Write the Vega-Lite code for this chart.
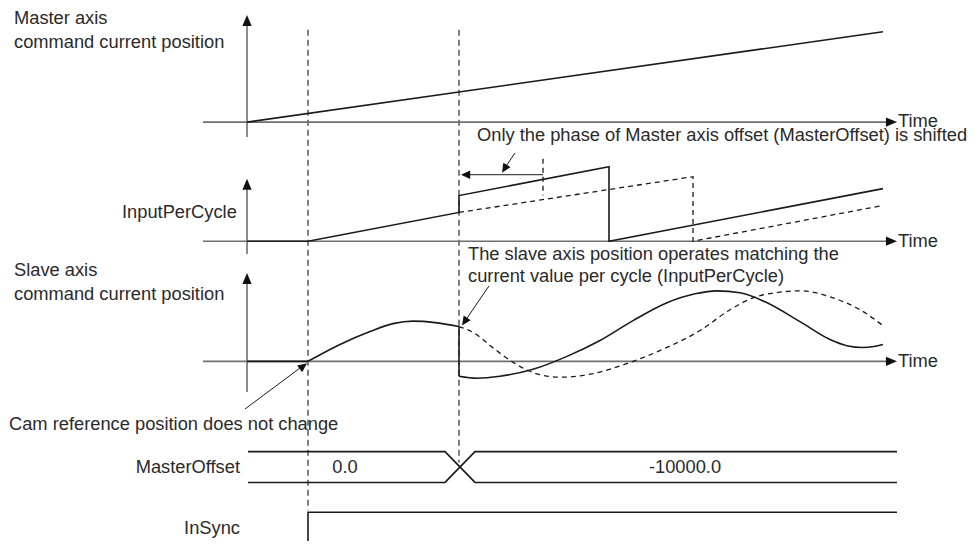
{
  "$schema": "https://vega.github.io/schema/vega-lite/v6.json",
  "width": 977,
  "height": 545,
  "autosize": {"type": "fit", "contains": "padding"},
  "padding": 0,
  "background": "white",
  "config": {"view": {"stroke": null}},
  "datasets": {
    "lines": [
      {"id": "a1v", "grp": "axis", "o": 0, "x": 247, "y": 24},
      {"id": "a1v", "grp": "axis", "o": 1, "x": 247, "y": 138},
      {"id": "a1h", "grp": "axis", "o": 0, "x": 203, "y": 123},
      {"id": "a1h", "grp": "axis", "o": 1, "x": 889, "y": 123},
      {"id": "a2v", "grp": "axis", "o": 0, "x": 247, "y": 188},
      {"id": "a2v", "grp": "axis", "o": 1, "x": 247, "y": 256},
      {"id": "a2h", "grp": "axis", "o": 0, "x": 203, "y": 243},
      {"id": "a2h", "grp": "axis", "o": 1, "x": 889, "y": 243},
      {"id": "a3v", "grp": "axis", "o": 0, "x": 247, "y": 283},
      {"id": "a3v", "grp": "axis", "o": 1, "x": 247, "y": 395},
      {"id": "a3h", "grp": "axis", "o": 0, "x": 203, "y": 364},
      {"id": "a3h", "grp": "axis", "o": 1, "x": 889, "y": 364},

      {"id": "m", "grp": "signal", "o": 0, "x": 247, "y": 123},
      {"id": "m", "grp": "signal", "o": 1, "x": 883, "y": 32},
      {"id": "ipc", "grp": "signal", "o": 0, "x": 247, "y": 243},
      {"id": "ipc", "grp": "signal", "o": 1, "x": 308, "y": 243},
      {"id": "ipc", "grp": "signal", "o": 2, "x": 459, "y": 214},
      {"id": "ipc", "grp": "signal", "o": 3, "x": 459, "y": 197},
      {"id": "ipc", "grp": "signal", "o": 4, "x": 609, "y": 168},
      {"id": "ipc", "grp": "signal", "o": 5, "x": 609, "y": 243},
      {"id": "ipc", "grp": "signal", "o": 6, "x": 883, "y": 190},
      {"id": "s0", "grp": "signal", "o": 0, "x": 247, "y": 364},
      {"id": "s0", "grp": "signal", "o": 1, "x": 308, "y": 364},
      {"id": "s2", "grp": "signal", "o": 0, "x": 459, "y": 329},
      {"id": "s2", "grp": "signal", "o": 1, "x": 459, "y": 379},
      {"id": "busA", "grp": "signal", "o": 0, "x": 248, "y": 455},
      {"id": "busA", "grp": "signal", "o": 1, "x": 445, "y": 455},
      {"id": "busA", "grp": "signal", "o": 2, "x": 475, "y": 486},
      {"id": "busA", "grp": "signal", "o": 3, "x": 897, "y": 486},
      {"id": "busB", "grp": "signal", "o": 0, "x": 248, "y": 486},
      {"id": "busB", "grp": "signal", "o": 1, "x": 445, "y": 486},
      {"id": "busB", "grp": "signal", "o": 2, "x": 475, "y": 455},
      {"id": "busB", "grp": "signal", "o": 3, "x": 897, "y": 455},
      {"id": "ins", "grp": "signal", "o": 0, "x": 308, "y": 545},
      {"id": "ins", "grp": "signal", "o": 1, "x": 308, "y": 516},
      {"id": "ins", "grp": "signal", "o": 2, "x": 897, "y": 516},

      {"id": "s1", "grp": "curve", "o": 0, "x": 308, "y": 364},
      {"id": "s1", "grp": "curve", "o": 1, "x": 340, "y": 347},
      {"id": "s1", "grp": "curve", "o": 2, "x": 370, "y": 334},
      {"id": "s1", "grp": "curve", "o": 3, "x": 393, "y": 326},
      {"id": "s1", "grp": "curve", "o": 4, "x": 413, "y": 323.5},
      {"id": "s1", "grp": "curve", "o": 5, "x": 435, "y": 325},
      {"id": "s1", "grp": "curve", "o": 6, "x": 459, "y": 329},
      {"id": "s3", "grp": "curve", "o": 0, "x": 459, "y": 379},
      {"id": "s3", "grp": "curve", "o": 1, "x": 477, "y": 381},
      {"id": "s3", "grp": "curve", "o": 2, "x": 500, "y": 379},
      {"id": "s3", "grp": "curve", "o": 3, "x": 533, "y": 372},
      {"id": "s3", "grp": "curve", "o": 4, "x": 567, "y": 359},
      {"id": "s3", "grp": "curve", "o": 5, "x": 600, "y": 343},
      {"id": "s3", "grp": "curve", "o": 6, "x": 633, "y": 323},
      {"id": "s3", "grp": "curve", "o": 7, "x": 667, "y": 305},
      {"id": "s3", "grp": "curve", "o": 8, "x": 695, "y": 296},
      {"id": "s3", "grp": "curve", "o": 9, "x": 717, "y": 293},
      {"id": "s3", "grp": "curve", "o": 10, "x": 740, "y": 295},
      {"id": "s3", "grp": "curve", "o": 11, "x": 765, "y": 304},
      {"id": "s3", "grp": "curve", "o": 12, "x": 800, "y": 324},
      {"id": "s3", "grp": "curve", "o": 13, "x": 830, "y": 342},
      {"id": "s3", "grp": "curve", "o": 14, "x": 848, "y": 348.5},
      {"id": "s3", "grp": "curve", "o": 15, "x": 862, "y": 350},
      {"id": "s3", "grp": "curve", "o": 16, "x": 874, "y": 349},
      {"id": "s3", "grp": "curve", "o": 17, "x": 883, "y": 347},

      {"id": "d1", "grp": "shifted", "o": 0, "x": 459, "y": 214},
      {"id": "d1", "grp": "shifted", "o": 1, "x": 693, "y": 178},
      {"id": "d1", "grp": "shifted", "o": 2, "x": 693, "y": 243},
      {"id": "d1", "grp": "shifted", "o": 3, "x": 883, "y": 207},
      {"id": "d2", "grp": "shifted", "o": 0, "x": 543, "y": 160},
      {"id": "d2", "grp": "shifted", "o": 1, "x": 543, "y": 197},

      {"id": "dc", "grp": "shiftcurve", "o": 0, "x": 459, "y": 329},
      {"id": "dc", "grp": "shiftcurve", "o": 1, "x": 475, "y": 336},
      {"id": "dc", "grp": "shiftcurve", "o": 2, "x": 490, "y": 348},
      {"id": "dc", "grp": "shiftcurve", "o": 3, "x": 513, "y": 365},
      {"id": "dc", "grp": "shiftcurve", "o": 4, "x": 535, "y": 376},
      {"id": "dc", "grp": "shiftcurve", "o": 5, "x": 560, "y": 380},
      {"id": "dc", "grp": "shiftcurve", "o": 6, "x": 590, "y": 377},
      {"id": "dc", "grp": "shiftcurve", "o": 7, "x": 633, "y": 364},
      {"id": "dc", "grp": "shiftcurve", "o": 8, "x": 667, "y": 350},
      {"id": "dc", "grp": "shiftcurve", "o": 9, "x": 700, "y": 333},
      {"id": "dc", "grp": "shiftcurve", "o": 10, "x": 730, "y": 312},
      {"id": "dc", "grp": "shiftcurve", "o": 11, "x": 753, "y": 300},
      {"id": "dc", "grp": "shiftcurve", "o": 12, "x": 775, "y": 295},
      {"id": "dc", "grp": "shiftcurve", "o": 13, "x": 800, "y": 293},
      {"id": "dc", "grp": "shiftcurve", "o": 14, "x": 833, "y": 300},
      {"id": "dc", "grp": "shiftcurve", "o": 15, "x": 860, "y": 312},
      {"id": "dc", "grp": "shiftcurve", "o": 16, "x": 883, "y": 328},

      {"id": "g1", "grp": "guide", "o": 0, "x": 308, "y": 30},
      {"id": "g1", "grp": "guide", "o": 1, "x": 308, "y": 514},
      {"id": "g2", "grp": "guide", "o": 0, "x": 459, "y": 30},
      {"id": "g2", "grp": "guide", "o": 1, "x": 459, "y": 466},

      {"id": "n1", "grp": "note", "o": 0, "x": 465, "y": 176},
      {"id": "n1", "grp": "note", "o": 1, "x": 543, "y": 176},
      {"id": "n2", "grp": "note", "o": 0, "x": 515, "y": 154},
      {"id": "n2", "grp": "note", "o": 1, "x": 505, "y": 169},
      {"id": "n3", "grp": "note", "o": 0, "x": 489, "y": 288},
      {"id": "n3", "grp": "note", "o": 1, "x": 466, "y": 322},
      {"id": "n4", "grp": "note", "o": 0, "x": 245, "y": 412},
      {"id": "n4", "grp": "note", "o": 1, "x": 301, "y": 370}
    ],
    "heads": [
      {"kind": "axis", "x": 247, "y": 15, "dir": 0},
      {"kind": "axis", "x": 247, "y": 180, "dir": 0},
      {"kind": "axis", "x": 247, "y": 275, "dir": 0},
      {"kind": "axis", "x": 897, "y": 123, "dir": 90},
      {"kind": "axis", "x": 897, "y": 243, "dir": 90},
      {"kind": "axis", "x": 897, "y": 364, "dir": 90},
      {"kind": "note", "x": 461, "y": 176, "dir": 270},
      {"kind": "note", "x": 502, "y": 174, "dir": 212},
      {"kind": "note", "x": 462, "y": 328, "dir": 214},
      {"kind": "note", "x": 307, "y": 366, "dir": 53}
    ],
    "texts": [
      {"pos": "left", "label": "Master axis", "x": 14, "y": 19},
      {"pos": "left", "label": "command current position", "x": 14, "y": 43},
      {"pos": "left", "label": "InputPerCycle", "x": 122, "y": 215},
      {"pos": "left", "label": "Slave axis", "x": 14, "y": 273},
      {"pos": "left", "label": "command current position", "x": 14, "y": 297},
      {"pos": "left", "label": "Only the phase of Master axis offset (MasterOffset) is shifted", "x": 477, "y": 137},
      {"pos": "left", "label": "The slave axis position operates matching the", "x": 468, "y": 257},
      {"pos": "left", "label": "current value per cycle (InputPerCycle)", "x": 468, "y": 279},
      {"pos": "left", "label": "Cam reference position does not change", "x": 9, "y": 428},
      {"pos": "left", "label": "Time", "x": 898, "y": 123},
      {"pos": "left", "label": "Time", "x": 898, "y": 244},
      {"pos": "left", "label": "Time", "x": 898, "y": 365},
      {"pos": "right", "label": "MasterOffset", "x": 240, "y": 471},
      {"pos": "right", "label": "InSync", "x": 240, "y": 533},
      {"pos": "center", "label": "0.0", "x": 345, "y": 471},
      {"pos": "center", "label": "-10000.0", "x": 685, "y": 471}
    ]
  },
  "encoding": {
    "x": {"field": "x", "type": "quantitative", "scale": {"domain": [0, 977], "nice": false, "zero": false}, "axis": null},
    "y": {"field": "y", "type": "quantitative", "scale": {"domain": [0, 545], "nice": false, "zero": false, "reverse": true}, "axis": null}
  },
  "layer": [
    {
      "data": {"name": "lines"},
      "transform": [{"filter": "datum.grp === 'guide'"}],
      "mark": {"type": "line", "color": "#1a1a1a", "strokeWidth": 1.1, "strokeDash": [6, 4]},
      "encoding": {"detail": {"field": "id"}, "order": {"field": "o", "type": "quantitative"}}
    },
    {
      "data": {"name": "lines"},
      "transform": [{"filter": "datum.grp === 'axis'"}],
      "mark": {"type": "line", "color": "#6f6f6f", "strokeWidth": 1.6},
      "encoding": {"detail": {"field": "id"}, "order": {"field": "o", "type": "quantitative"}}
    },
    {
      "data": {"name": "lines"},
      "transform": [{"filter": "datum.grp === 'signal'"}],
      "mark": {"type": "line", "color": "#1a1a1a", "strokeWidth": 1.6, "strokeJoin": "miter"},
      "encoding": {"detail": {"field": "id"}, "order": {"field": "o", "type": "quantitative"}}
    },
    {
      "data": {"name": "lines"},
      "transform": [{"filter": "datum.grp === 'curve'"}],
      "mark": {"type": "line", "color": "#1a1a1a", "strokeWidth": 1.6, "interpolate": "monotone"},
      "encoding": {"detail": {"field": "id"}, "order": {"field": "o", "type": "quantitative"}}
    },
    {
      "data": {"name": "lines"},
      "transform": [{"filter": "datum.grp === 'shifted'"}],
      "mark": {"type": "line", "color": "#1a1a1a", "strokeWidth": 1.3, "strokeDash": [5, 4]},
      "encoding": {"detail": {"field": "id"}, "order": {"field": "o", "type": "quantitative"}}
    },
    {
      "data": {"name": "lines"},
      "transform": [{"filter": "datum.grp === 'shiftcurve'"}],
      "mark": {"type": "line", "color": "#1a1a1a", "strokeWidth": 1.3, "strokeDash": [5, 4], "interpolate": "monotone"},
      "encoding": {"detail": {"field": "id"}, "order": {"field": "o", "type": "quantitative"}}
    },
    {
      "data": {"name": "lines"},
      "transform": [{"filter": "datum.grp === 'note'"}],
      "mark": {"type": "line", "color": "#1a1a1a", "strokeWidth": 1},
      "encoding": {"detail": {"field": "id"}, "order": {"field": "o", "type": "quantitative"}}
    },
    {
      "data": {"name": "heads"},
      "transform": [{"filter": "datum.kind === 'axis'"}],
      "mark": {"type": "point", "shape": "M0,0L1,2.4L-1,2.4Z", "filled": true, "color": "#111", "opacity": 1, "size": 85, "strokeWidth": 0},
      "encoding": {"angle": {"field": "dir", "type": "quantitative", "scale": null}}
    },
    {
      "data": {"name": "heads"},
      "transform": [{"filter": "datum.kind === 'note'"}],
      "mark": {"type": "point", "shape": "M0,0L1,2.2L-1,2.2Z", "filled": true, "color": "#111", "opacity": 1, "size": 70, "strokeWidth": 0},
      "encoding": {"angle": {"field": "dir", "type": "quantitative", "scale": null}}
    },
    {
      "data": {"name": "texts"},
      "transform": [{"filter": "datum.pos === 'left'"}],
      "mark": {"type": "text", "align": "left", "baseline": "middle", "font": "Liberation Sans", "fontSize": 18.3, "color": "#2a2a2a"},
      "encoding": {"text": {"field": "label"}}
    },
    {
      "data": {"name": "texts"},
      "transform": [{"filter": "datum.pos === 'right'"}],
      "mark": {"type": "text", "align": "right", "baseline": "middle", "font": "Liberation Sans", "fontSize": 18.3, "color": "#2a2a2a"},
      "encoding": {"text": {"field": "label"}}
    },
    {
      "data": {"name": "texts"},
      "transform": [{"filter": "datum.pos === 'center'"}],
      "mark": {"type": "text", "align": "center", "baseline": "middle", "font": "Liberation Sans", "fontSize": 18.3, "color": "#2a2a2a"},
      "encoding": {"text": {"field": "label"}}
    }
  ]
}
